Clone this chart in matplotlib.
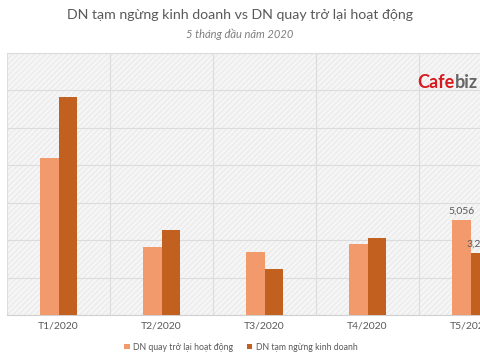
import matplotlib
matplotlib.use("Agg")
import matplotlib.pyplot as plt
from matplotlib.patches import Rectangle
import numpy as np

plt.rcParams['font.family'] = ['Lato', 'DejaVu Sans']
plt.rcParams['hatch.linewidth'] = 0.4

# data
months = ['T1/2020', 'T2/2020', 'T3/2020', 'T4/2020', 'T5/2020']
quay_lai = [8380, 3610, 3340, 3770, 5056]      # DN quay trở lại hoạt động
tam_ngung = [11620, 4560, 2440, 4090, 3289]    # DN tạm ngừng kinh doanh

light = '#f29a6c'
dark = '#c2601f'
txt = '#595959'

fig = plt.figure(figsize=(4.8, 3.6), dpi=100)
ax = fig.add_axes([7/480, 45/360, 515/480, 262.3/360])

# textured plot background
ax.add_patch(Rectangle((0, 0), 1, 1, transform=ax.transAxes, facecolor='#f5f5f5',
                       edgecolor='#e0e0e0', hatch='//////', lw=0, zorder=0))

x = np.arange(len(months))
w = 0.175
ax.bar(x - w/2, quay_lai, w, color=light, label='DN quay trở lại hoạt động', zorder=3)
ax.bar(x + w/2, tam_ngung, w, color=dark, label='DN tạm ngừng kinh doanh', zorder=3)

# data labels on the last month only
ax.text(x[-1] - w/2, quay_lai[-1] + 250, f'{quay_lai[-1]:,}', ha='center', va='bottom',
        fontsize=7.5, color=txt, zorder=4)
ax.text(x[-1] + w/2, tam_ngung[-1] + 250, f'{tam_ngung[-1]:,}', ha='center', va='bottom',
        fontsize=7.5, color=txt, zorder=4)

ax.set_xlim(-0.5, 4.5)
ax.set_ylim(0, 14000)
ax.set_yticks(np.arange(0, 14001, 2000))
ax.set_yticklabels([])
ax.set_xticks(x)
ax.set_xticklabels(months, fontsize=7.5, color=txt)
ax.set_xticks(np.arange(-0.5, 5, 1), minor=True)
ax.tick_params(axis='both', length=0, pad=5)
ax.tick_params(axis='x', which='minor', length=0)
ax.grid(axis='y', color='#dcdcdc', lw=0.8, zorder=1)
ax.grid(axis='x', which='minor', color='#dcdcdc', lw=0.8, zorder=1)
for s in ['right', 'left']:
    ax.spines[s].set_visible(False)
ax.spines['top'].set_color('#dcdcdc')
ax.spines['bottom'].set_color('#d0d0d0')

fig.legend(loc='center', bbox_to_anchor=(241/480, 1 - 347/360), ncol=2, frameon=False,
           fontsize=6.3, labelcolor=txt, handlelength=0.6, handleheight=0.6,
           handletextpad=0.4, columnspacing=1.6)

fig.text(240/480, 1 - 15/360, 'DN tạm ngừng kinh doanh vs DN quay trở lại hoạt động',
         ha='center', va='center', fontsize=10.2, color=txt)
fig.text(240/480, 1 - 34/360, '5 tháng đầu năm 2020', ha='center', va='center',
         fontsize=8, color='#7f7f7f', style='italic')

# watermark
fig.text(455/480, 1 - 83/360, 'Cafe', ha='right', va='center', fontsize=13,
         color='#d71920', fontweight='bold')
fig.text(455/480, 1 - 83/360, 'biz', ha='left', va='center', fontsize=13,
         color='#666666', fontweight='bold')

plt.savefig('out.png', dpi=100)
